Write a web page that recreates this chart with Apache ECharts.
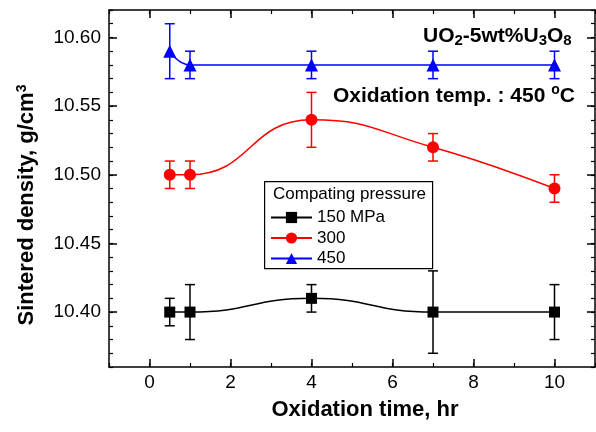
<!DOCTYPE html>
<html>
<head>
<meta charset="utf-8">
<script src="https://cdn.jsdelivr.net/npm/echarts@6/dist/echarts.min.js"></script>
<style>
html, body { margin: 0; padding: 0; background: #fff; }
#chart { width: 596px; height: 432px; }
</style>
</head>
<body>
<div id="chart"></div>
<script>
// oxidation time, hr
var times = [0.5, 1, 4, 7, 10];

// sintered density (g/cm3) and error half-widths per compacting pressure
var dens150 = [10.40, 10.40, 10.41, 10.40, 10.40];
var err150 = [0.01, 0.02, 0.01, 0.03, 0.02];
var dens300 = [10.50, 10.50, 10.54, 10.52, 10.49];
var err300 = [0.01, 0.01, 0.02, 0.01, 0.01];
var dens450 = [10.59, 10.58, 10.58, 10.58, 10.58];
var err450 = [0.02, 0.01, 0.01, 0.01, 0.01];

var names = ['150 MPa', '300', '450'];
var xTicks = [0, 2, 4, 6, 8, 10];
var yTicks = [10.40, 10.45, 10.50, 10.55, 10.60];

var FONT = 'Liberation Sans, Arial, sans-serif';

function points(ys) {
    return times.map(function (t, i) { return [t, ys[i]]; });
}
function bars(ys, es) {
    return times.map(function (t, i) { return [t, ys[i] - es[i], ys[i] + es[i]]; });
}

// error bar: vertical line with caps
function renderErr(params, api) {
    var x = api.value(0);
    var lo = api.coord([x, api.value(1)]);
    var hi = api.coord([x, api.value(2)]);
    var w = 5;
    var style = { stroke: api.visual('color'), lineWidth: 1.5 };
    return {
        type: 'group',
        children: [
            { type: 'line', shape: { x1: lo[0], y1: lo[1], x2: hi[0], y2: hi[1] }, style: style },
            { type: 'line', shape: { x1: lo[0] - w, y1: lo[1], x2: lo[0] + w, y2: lo[1] }, style: style },
            { type: 'line', shape: { x1: hi[0] - w, y1: hi[1], x2: hi[0] + w, y2: hi[1] }, style: style }
        ]
    };
}

function xAxis(pos, major) {
    return {
        type: 'value', position: pos, min: -1, max: 11,
        interval: major ? undefined : 1,
        axisLine: { show: !major, onZero: false, lineStyle: { color: '#000', width: 1.5 } },
        axisTick: major ? { inside: true, length: 8, customValues: xTicks, lineStyle: { color: '#000', width: 1.5 } }
                        : { inside: true, length: 4, lineStyle: { color: '#000', width: 1.2 } },
        axisLabel: (major && pos === 'bottom') ? {
            customValues: xTicks, color: '#000', fontFamily: FONT, fontSize: 19, margin: 6
        } : { show: false },
        splitLine: { show: false }
    };
}

function yAxis(pos, major) {
    return {
        type: 'value', position: pos, min: 10.36, max: 10.62,
        interval: major ? undefined : 0.01,
        axisLine: { show: !major, onZero: false, lineStyle: { color: '#000', width: 1.5 } },
        axisTick: major ? { inside: true, length: 8, customValues: yTicks, lineStyle: { color: '#000', width: 1.5 } }
                        : { inside: true, length: 4, lineStyle: { color: '#000', width: 1.2 } },
        axisLabel: (major && pos === 'left') ? {
            customValues: yTicks, color: '#000', fontFamily: FONT, fontSize: 19, margin: 8,
            formatter: function (v) { return v.toFixed(2); }
        } : { show: false },
        splitLine: { show: false }
    };
}

var xAxes = [xAxis('bottom', false), xAxis('bottom', true), xAxis('top', false), xAxis('top', true)];
xAxes[0].name = 'Oxidation time, hr';
xAxes[0].nameLocation = 'middle';
xAxes[0].nameGap = 32;
xAxes[0].nameTextStyle = { color: '#000', fontFamily: FONT, fontSize: 22, fontWeight: 'bold', padding: [0, 0, 0, 26] };

var yAxes = [yAxis('left', false), yAxis('left', true), yAxis('right', false), yAxis('right', true)];
yAxes[0].name = '{a|Sintered density, g/cm}{s|3}';
yAxes[0].nameLocation = 'middle';
yAxes[0].nameGap = 70;
yAxes[0].nameTextStyle = {
    color: '#000', fontFamily: FONT, fontSize: 22, fontWeight: 'bold', padding: [0, 33, 0, 0],
    rich: {
        a: { fontFamily: FONT, fontSize: 22, fontWeight: 'bold', color: '#000', lineHeight: 24 },
        s: { fontFamily: FONT, fontSize: 14, fontWeight: 'bold', color: '#000', lineHeight: 12, verticalAlign: 'top' }
    }
};

var colors = ['#000000', '#ff0000', '#0000ff'];
var symbols = ['rect', 'circle', 'triangle'];
var sizes = [11, 12, 13];
var dens = [dens150, dens300, dens450];
var errs = [err150, err300, err450];

var series = [];
for (var i = 0; i < 3; i++) {
    series.push({
        type: 'custom', name: names[i] + ' err', renderItem: renderErr,
        data: bars(dens[i], errs[i]), itemStyle: { color: colors[i] },
        encode: { x: 0, y: [1, 2] }, z: 2, silent: true
    });
    series.push({
        type: 'line', name: names[i], data: points(dens[i]), smooth: true,
        symbol: symbols[i], symbolSize: sizes[i], showAllSymbol: true,
        lineStyle: { color: colors[i], width: 1.5 }, itemStyle: { color: colors[i] },
        z: 3, silent: true
    });
}

var chart = echarts.init(document.getElementById('chart'), null, { renderer: 'canvas' });
chart.setOption({
    animation: false,
    backgroundColor: '#fff',
    grid: { left: 109, right: 1, top: 10, bottom: 65 },
    xAxis: xAxes,
    yAxis: yAxes,
    legend: {
        data: names, orient: 'vertical', left: 270, top: 209, padding: 0,
        itemGap: 3.5, itemWidth: 41, itemHeight: 14, selectedMode: false,
        textStyle: { color: '#000', fontFamily: FONT, fontSize: 17 }
    },
    graphic: [
        {
            type: 'rect', left: 264, top: 181, z: 0,
            shape: { width: 168, height: 87 },
            style: { fill: '#fff', stroke: '#000', lineWidth: 1.2 }
        },
        {
            type: 'text', left: 273, top: 186, z: 1,
            style: { text: 'Compating pressure', fill: '#000', font: '17px ' + FONT }
        },
        {
            type: 'text', left: 423, top: 26,
            style: {
                text: '{a|UO}{b|2}{a|-5wt%U}{b|3}{a|O}{b|8}',
                rich: {
                    a: { fontFamily: FONT, fontSize: 21, fontWeight: 'bold', fill: '#000', lineHeight: 24 },
                    b: { fontFamily: FONT, fontSize: 15, fontWeight: 'bold', fill: '#000', lineHeight: 10, verticalAlign: 'bottom' }
                }
            }
        },
        {
            type: 'text', left: 333, top: 83,
            style: {
                text: '{a|Oxidation temp. : 450 }{s|o}{a|C}',
                rich: {
                    a: { fontFamily: FONT, fontSize: 21, fontWeight: 'bold', fill: '#000', lineHeight: 26 },
                    s: { fontFamily: FONT, fontSize: 14, fontWeight: 'bold', fill: '#000', lineHeight: 12, verticalAlign: 'top' }
                }
            }
        }
    ],
    series: series
});
</script>
</body>
</html>
